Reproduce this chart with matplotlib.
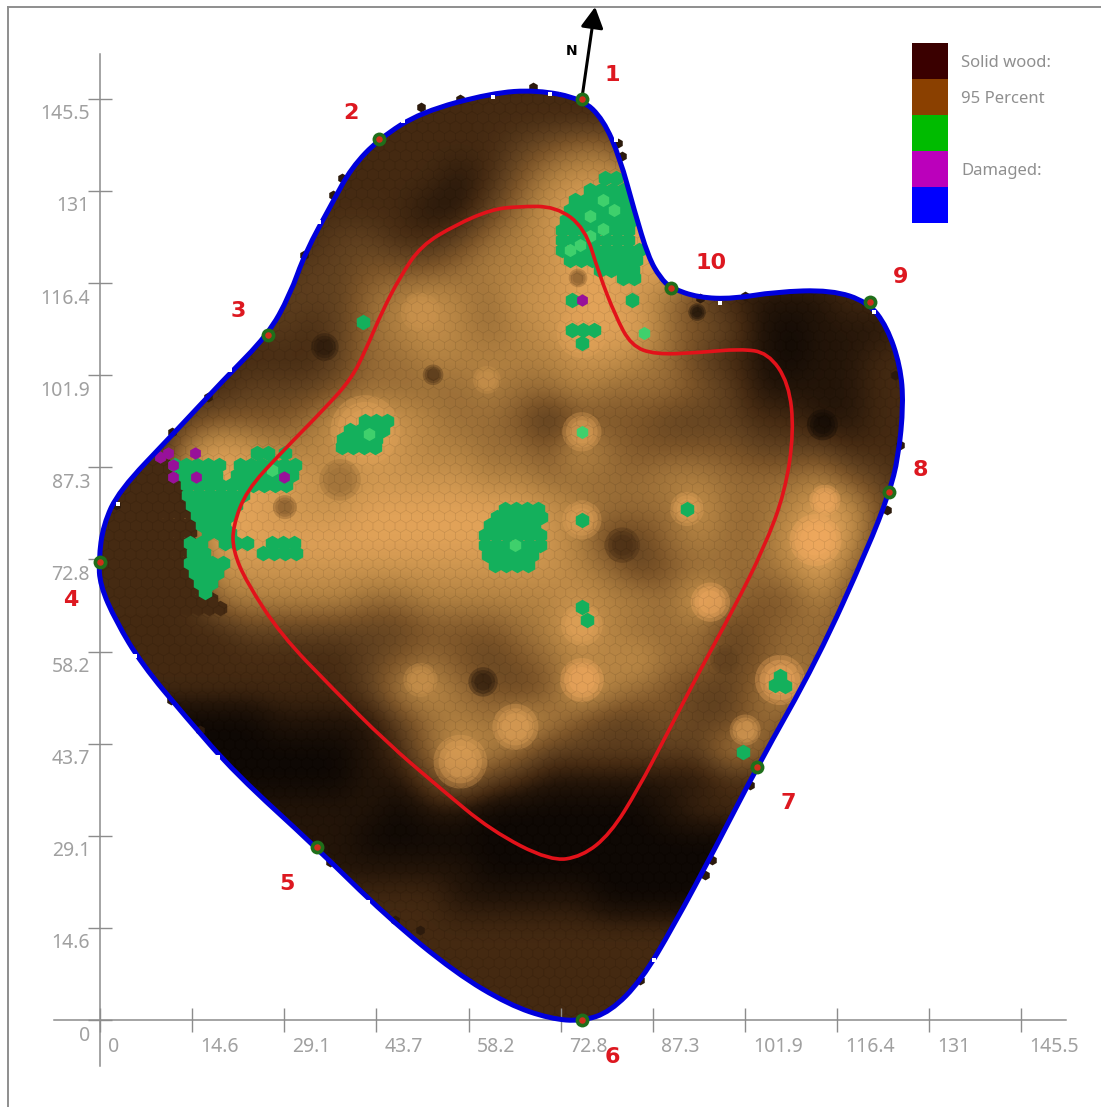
import numpy as np
import matplotlib
matplotlib.use("Agg")
import matplotlib.pyplot as plt
from matplotlib.colors import LinearSegmentedColormap
from matplotlib.lines import Line2D
from matplotlib.patches import PathPatch, Rectangle
from matplotlib.path import Path
from matplotlib.transforms import ScaledTranslation

plt.rcParams["font.family"] = ["Noto Sans", "DejaVu Sans"]

# trunk outline, clockwise from sensor 1
outline_x = [76.1, 79.5, 82.1, 84.4, 86.6, 88.5, 90.2, 94.5, 100.0, 106.6, 115.5, 121.3, 124.3, 126.4,
             126.9, 126.1, 124.6, 121.3, 113.3, 103.8, 97.2, 90.5, 85.5, 80.6, 76.1, 71.1, 64.6, 56.2,
             45.2, 34.1, 21.4, 13.5, 6.6, 2.5, 0.0, -0.2, 0.5, 3.0, 11.4, 19.7, 26.5, 30.0, 32.4, 36.7,
             39.7, 44.1, 50.7, 61.8, 69.0]
outline_y = [145.5, 142.2, 136.2, 127.8, 120.5, 117.2, 115.6, 114.1, 113.9, 115.0, 115.3, 113.4, 109.5, 103.3,
             97.3, 88.9, 83.1, 74.6, 56.9, 40.0, 27.2, 14.7, 6.3, 1.3, -0.2, 0.2, 2.4, 7.4,
             16.4, 27.3, 38.9, 47.9, 56.2, 63.0, 68.7, 72.7, 78.2, 83.6, 92.4, 101.3, 108.2, 114.5, 121.2, 129.1,
             134.6, 139.2, 143.4, 146.4, 146.9]

# red inner curve
inner_x = [66.0, 61.8, 56.2, 50.7, 47.4, 44.5, 41.9, 39.7, 35.7, 28.6, 23.1, 21.0, 21.0, 23.1, 28.6, 36.8,
           45.2, 53.6, 61.8, 71.1, 76.1, 80.6, 85.0, 89.4, 94.9, 100.0, 104.9, 108.2, 109.6, 108.8, 105.5,
           101.1, 94.5, 87.7, 83.9, 81.4, 78.8, 76.6, 72.0]
inner_y = [128.5, 128.0, 125.6, 122.3, 117.4, 111.8, 105.7, 101.3, 96.8, 89.6, 83.6, 78.0, 74.2, 69.2, 60.8, 52.3,
           43.9, 36.7, 29.9, 25.1, 25.8, 29.4, 36.5, 44.9, 55.5, 64.8, 74.6, 83.4, 92.9, 100.6, 105.4,
           106.0, 105.4, 105.1, 106.5, 111.2, 117.9, 125.1, 128.5]

# sensors
sensor_x = [76.1, 44.1, 26.5, 0.0, 34.3, 76.1, 103.8, 124.6, 121.6, 90.2]
sensor_y = [145.5, 139.2, 108.2, 72.4, 27.3, 0.0, 40.0, 83.4, 113.4, 115.6]
sensor_label_x = [80.9, 39.7, 21.8, -4.6, 29.5, 81.0, 108.7, 129.5, 126.5, 96.5]
sensor_label_y = [149.3, 143.3, 112.0, 66.4, 21.5, -5.8, 34.3, 86.9, 117.4, 119.6]
sensor_names = ["1", "2", "3", "4", "5", "6", "7", "8", "9", "10"]

# wood density by level 0 (dark) to 9 (light), top row first
density_rows = [
    "2222222222222222222222222222",
    "2222222222222222222222222222",
    "2222222222222234552222222222",
    "2222222222221246777222222222",
    "2222222222211357888222222222",
    "2222222233223567888822222222",
    "2222222334445667888862222222",
    "2222223335676577887532111222",
    "2222223235676567888543101112",
    "2222222235566666776532101122",
    "2222233345555655655543111122",
    "2223444578765542444333221122",
    "2226876678766554754444333222",
    "2228888767777665555665556432",
    "2226887778888887655575568742",
    "2224888888888887633565579732",
    "2223777777777777653455568532",
    "2222566665566666766585446432",
    "2222233333344456865553455422",
    "2222222223454345667553455422",
    "2222222223675434865433574322",
    "0000001111356576433433543222",
    "0000000001257653333336532222",
    "0000000001135321111112222222",
    "1111111111011000000122222222",
    "1111111110000000000000222222",
    "1111111111111000000000222222",
    "2222222222221111100001222222",
    "2222222222222222222222222222",
    "2222222222222222222222222222",
    "2222222222222222222222222222",
    "2222222222222222222222222222",
]
level_colors = ["#0e0804", "#241509", "#452a12", "#60401f", "#7c5428", "#986c36",
                "#b38242", "#cb944e", "#e2a359", "#f4ab60"]

# small light and dark patches the coarse rows miss: x, y, level, size
spot_x = [76.1, 76.1, 92.7, 76.1, 76.1, 96.4, 107.4, 113.0, 114.5, 56.9, 65.6, 50.6, 50.6, 61.1, 41.9, 101.9, 76.1,
          94.3, 35.5, 52.6, 60.5, 82.5, 114.1, 37.9, 29.2, 98.7, 75.5]
spot_y = [92.9, 79.0, 80.7, 62.4, 53.7, 66.0, 53.7, 75.8, 82.1, 40.8, 46.3, 53.7, 111.8, 101.1, 93.2, 45.8, 108.5,
          111.8, 106.3, 101.9, 53.4, 75.0, 94.0, 85.3, 81.0, 56.9, 117.2]
spot_level = [8, 8, 8, 8, 9, 9, 9, 9, 9, 8, 8, 7, 7, 7, 8, 8, 8,
              0, 1, 2, 1, 2, 0, 5, 4, 3, 4]
spot_size = [800, 800, 600, 900, 1000, 800, 1300, 1400, 500, 1500, 1100, 600, 800, 400, 2500, 500, 1300,
             160, 400, 220, 450, 650, 500, 900, 300, 450, 180]

# cells of the wedge at the left edge: y, last x
wedge_y = [87.5, 86.0, 84.5, 83.0, 81.5, 80.0, 78.5, 77.0, 75.5, 74.0, 72.5, 71.0, 69.5, 68.0, 66.5, 65.0]
wedge_end = [10.5, 11.7, 13.0, 13.4, 13.9, 14.2, 14.2, 14.2, 14.0, 13.9, 14.0, 14.5, 15.0, 16.0, 17.5, 19.0]

# rows of weak cells: y, first x, last x
green_rows = [
    (133.0, 79.8, 82.1), (131.1, 77.4, 83.7), (129.5, 75.0, 84.0), (128.0, 74.2, 84.5), (126.4, 73.6, 84.5),
    (124.8, 73.0, 84.8), (123.2, 73.0, 84.8), (121.6, 73.0, 85.3), (120.1, 74.2, 85.6), (118.5, 79.0, 85.3),
    (117.2, 82.6, 85.6), (113.7, 84.0, 85.3), (109.0, 74.6, 77.8),
    (94.6, 41.9, 46.1), (93.2, 39.5, 46.1), (91.8, 38.4, 45.0), (90.5, 38.2, 44.2),
    (89.6, 24.8, 26.9), (89.6, 29.2, 30.0), (87.7, 11.8, 18.5), (87.7, 22.1, 31.1), (86.1, 13.1, 19.4),
    (86.1, 21.6, 31.6), (84.5, 13.7, 22.6), (84.5, 24.2, 29.5), (82.9, 13.9, 22.6), (81.4, 14.5, 22.1),
    (79.8, 15.3, 21.6), (78.2, 16.1, 21.0), (76.9, 17.1, 21.0), (75.4, 14.2, 16.1), (75.4, 19.7, 24.5),
    (75.4, 27.2, 31.3), (73.8, 14.7, 16.9), (73.8, 25.8, 31.1), (72.2, 14.2, 19.4), (70.6, 15.0, 19.0),
    (69.0, 15.8, 18.2), (67.6, 16.6, 17.7),
    (80.7, 64.0, 69.5), (79.5, 62.7, 69.5), (78.2, 61.6, 69.5), (76.6, 60.8, 69.2), (75.0, 60.8, 69.5),
    (73.5, 61.3, 69.0), (71.9, 62.4, 68.7),
]
green_x = [74.6, 76.1, 41.5, 76.1, 92.7, 76.1, 76.9, 107.4, 106.6, 108.2, 101.6]
green_y = [113.7, 107.0, 110.3, 79.0, 80.7, 65.2, 63.2, 54.3, 52.9, 52.8, 42.3]
light_x = [85.9, 76.1, 75.8, 74.2, 77.4, 27.2, 65.6, 79.5, 81.2, 77.4, 79.5, 42.5]
light_y = [108.5, 92.9, 122.4, 121.6, 123.9, 86.9, 75.0, 129.5, 128.0, 127.0, 125.0, 92.5]
purple_x = [10.7, 9.5, 11.5, 15.0, 11.5, 15.2, 29.1, 76.1]
purple_y = [89.6, 88.9, 87.7, 89.6, 85.8, 85.8, 85.8, 113.7]

# cells poking out of the blue line and gaps next to it
edge_x = [50.7, 56.9, 68.4, 81.8, 82.5, 38.2, 36.8, 32.2, 11.4, 17.1, 2.5, 94.8, 101.9, 125.6, 126.4,
          124.3, 96.7, 95.6, 85.3, 102.7, 15.8, 11.2, 50.6, 46.6, 36.3]
edge_y = [144.2, 145.5, 147.4, 138.5, 136.5, 133.0, 130.3, 120.9, 92.9, 98.4, 81.4, 114.1, 114.4, 101.9, 90.8,
          80.6, 25.3, 22.9, 6.3, 37.1, 45.8, 50.6, 14.2, 15.8, 25.0]
gap_x = [5.5, 18.6, 25.2, 42.4, 47.8, 34.6, 20.6, 97.9, 122.3, 87.5, 62.0, 71.0, 81.5, 2.8]
gap_y = [57.5, 41.6, 34.2, 18.7, 142.0, 126.0, 102.7, 113.3, 111.8, 9.5, 145.8, 146.2, 139.0, 81.5]

# axis
tick_values = [0, 14.55, 29.1, 43.65, 58.2, 72.75, 87.3, 101.85, 116.4, 130.95, 145.5]
tick_labels = ["0", "14.6", "29.1", "43.7", "58.2", "72.8", "87.3", "101.9", "116.4", "131", "145.5"]

# legend
legend_colors = ["#3a0000", "#8a4000", "#00bb00", "#bb00bb", "#0000ff"]
legend_names = ["Solid wood:", "95 Percent", "", "Damaged:", ""]


def smooth_path(xs, ys):
    # quadratic segments between midpoints, the listed points act as controls
    pts = np.column_stack([xs, ys])
    mids = (pts + np.roll(pts, -1, axis=0)) / 2
    verts = [mids[-1]]
    codes = [Path.MOVETO]
    for p, m in zip(pts, mids):
        verts += [p, m]
        codes += [Path.CURVE3, Path.CURVE3]
    return Path(verts, codes)


def draw_field(ax, clip):
    density = np.array([[int(c) for c in row] for row in density_rows])
    cmap = LinearSegmentedColormap.from_list("wood", level_colors)
    im = ax.imshow(density, cmap=cmap, vmin=0, vmax=9, interpolation="bicubic",
                   extent=(-2.37, 130.3, -2.37, 149.3), origin="upper", aspect="auto", zorder=1)
    im.set_clip_path(clip)

    # stacked circles so the patches fade out at the rim
    for shrink in (1.0, 0.65, 0.35):
        spots = ax.scatter(spot_x, spot_y, s=np.array(spot_size) * shrink, c=spot_level, cmap=cmap, vmin=0, vmax=9,
                           marker="o", linewidths=0, alpha=0.33, zorder=1.5)
        spots.set_clip_path(clip)

    wedge_xs, wedge_ys = [], []
    for y, end in zip(wedge_y, wedge_end):
        row = np.arange(end, -2, -1.74)
        wedge_xs.extend(row)
        wedge_ys.extend([y] * len(row))
    wedge = ax.scatter(wedge_xs, wedge_ys, s=125, marker="h", color=level_colors[2], linewidths=0, zorder=1.7)
    wedge.set_clip_path(clip)

    # faint honeycomb on top of the shading
    gx, gy = np.meshgrid(np.arange(-3, 132, 1.74), np.arange(-3, 150, 1.5))
    gx = gx + (np.arange(gx.shape[0])[:, None] % 2) * 0.87
    mesh = ax.scatter(gx.ravel(), gy.ravel(), s=84, marker="h", facecolors="none",
                      edgecolors="#000000", linewidths=0.5, alpha=0.05, zorder=2)
    mesh.set_clip_path(clip)


def draw_cells(ax, clip):
    xs, ys = list(green_x), list(green_y)
    for y, x0, x1 in green_rows:
        row = np.arange(x0, x1 + 0.3, 1.74)
        xs.extend(row)
        ys.extend([y] * len(row))
    cells = ax.scatter(xs, ys, s=125, marker="h", color="#14b05c", linewidths=0, zorder=3)
    cells.set_clip_path(clip)
    ax.scatter(light_x, light_y, s=90, marker="h", color="#3fd06c", linewidths=0, zorder=3)
    ax.scatter(purple_x, purple_y, s=80, marker="h", color="#98109a", linewidths=0, zorder=4)


def draw_axis(ax):
    for name in ("top", "right"):
        ax.spines[name].set_visible(False)
    for name in ("left", "bottom"):
        ax.spines[name].set_position(("data", 0))
        ax.spines[name].set_bounds(-7.3, 152.6)
        ax.spines[name].set_color("#8c8c8c")
        ax.spines[name].set_linewidth(1.1)
        ax.spines[name].set_zorder(0.5)
    ax.set_xticks(tick_values, tick_labels)
    ax.set_yticks(tick_values, tick_labels)
    ax.tick_params(axis="both", direction="inout", length=17.3, width=1.0, color="#8c8c8c",
                   labelcolor="#a0a0a0", labelsize=14, pad=0)
    dpi_trans = ax.figure.dpi_scale_trans
    for label in ax.get_xticklabels():
        label.set_ha("left")
        label.set_transform(label.get_transform() + ScaledTranslation(0.08, -0.05, dpi_trans))
    for label in ax.get_yticklabels():
        label.set_ha("right")
        label.set_transform(label.get_transform() + ScaledTranslation(0.02, -0.13, dpi_trans))


def main():
    fig = plt.figure(figsize=(11.01, 11.07), dpi=100)
    ax = fig.add_axes([0, 0, 1, 1])
    ax.set_xlim(-15.8, 158.1)
    ax.set_ylim(-13.74, 161.1)
    ax.patch.set_visible(False)

    tree = smooth_path(outline_x, outline_y)
    clip = PathPatch(tree, transform=ax.transData, facecolor="none", edgecolor="none")
    ax.add_patch(clip)

    draw_field(ax, clip)
    draw_cells(ax, clip)
    ax.scatter(edge_x, edge_y, s=50, marker="h", color="#2c1a0c", linewidths=0, zorder=4)

    ax.add_patch(PathPatch(tree, facecolor="none", edgecolor="#0000dc", linewidth=3.6, zorder=5))
    ax.scatter(gap_x, gap_y, s=6, marker="s", color="white", linewidths=0, zorder=5)
    ax.add_patch(PathPatch(smooth_path(inner_x, inner_y), facecolor="none", edgecolor="#e2121a",
                           linewidth=2.6, zorder=6))

    ax.scatter(sensor_x, sensor_y, s=100, color="#1f6f1a", linewidths=0, zorder=7)
    ax.scatter(sensor_x, sensor_y, s=22, color="#cf2f1a", linewidths=0, zorder=8)
    for name, x, y in zip(sensor_names, sensor_label_x, sensor_label_y):
        ax.text(x, y, name, color="#dd1820", fontsize=16, fontweight="bold", family="DejaVu Sans",
                ha="center", va="center", zorder=9)

    # north arrow
    ax.annotate("", xy=(78.2, 160.0), xytext=(76.1, 145.5), zorder=6,
                arrowprops=dict(arrowstyle="-|>,head_length=0.7,head_width=0.38", mutation_scale=18,
                                lw=2.2, color="black", shrinkA=0, shrinkB=0))
    ax.text(74.5, 153.1, "N", fontsize=10, fontweight="bold", family="DejaVu Sans", ha="center", va="center")

    # colour legend
    for i, (color, name) in enumerate(zip(legend_colors, legend_names)):
        top = 154.3 - i * 5.69
        ax.add_patch(Rectangle((128.3, top - 5.69), 5.69, 5.69, facecolor=color, edgecolor="none", zorder=3))
        if name:
            ax.text(136.0, top - 3.1, name, color="#8f8f8f", fontsize=12, ha="left", va="center")

    draw_axis(ax)

    # window frame
    fig.add_artist(Line2D([0.0073, 0.0073], [0, 0.9937], color="#8e8e8e", lw=1.4))
    fig.add_artist(Line2D([0.0073, 1], [0.9937, 0.9937], color="#8e8e8e", lw=1.4))

    fig.savefig("out.png", dpi=100, facecolor="white")


if __name__ == "__main__":
    main()
